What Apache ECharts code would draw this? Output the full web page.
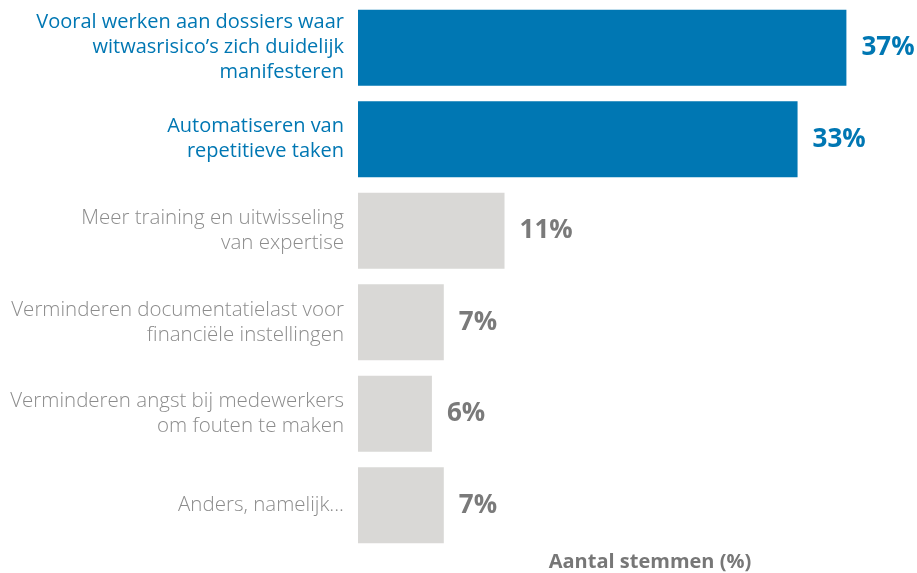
<!DOCTYPE html>
<html>
<head>
<meta charset="utf-8">
<script src="https://cdn.jsdelivr.net/npm/echarts@6/dist/echarts.min.js"></script>
<style>
  html, body { margin: 0; padding: 0; background: #fff; }
  #chart { width: 917px; height: 573px; }
</style>
</head>
<body>
<div id="chart"></div>
<script>
const categories = [
  'Vooral werken aan dossiers waar\nwitwasrisico\u2019s zich duidelijk\nmanifesteren',
  'Automatiseren van\nrepetitieve taken',
  'Meer training en uitwisseling\nvan expertise',
  'Verminderen documentatielast voor\nfinanci\u00eble instellingen',
  'Verminderen angst bij medewerkers\nom fouten te maken',
  'Anders, namelijk...'
];
// bar lengths; labels show the rounded value
const values = [37, 33.3, 11.1, 6.5, 5.6, 6.5];
const highlighted = [true, true, false, false, false, false];
const axisTitle = 'Aantal stemmen (%)';

const blue = '#0077b3';
const grey = '#d9d8d6';
const textGrey = '#8c8c8c';
const valueGrey = '#7a7a7a';

let chart = echarts.init(document.getElementById('chart'));
let option = {
  animation: false,
  grid: { left: 358, right: 31, top: 2, bottom: 22 },
  xAxis: {
    type: 'value',
    min: 0,
    max: 40,
    show: false
  },
  yAxis: {
    type: 'category',
    inverse: true,
    data: categories,
    axisLine: { show: false },
    axisTick: { show: false },
    axisLabel: {
      margin: 14,
      align: 'right',
      formatter: (v, i) => {
        let tag = highlighted[i] ? 'b' : 'g';
        return v.split('\n').map(l => '{' + tag + '|' + l + '}').join('\n');
      },
      rich: {
        b: { fontFamily: 'Open Sans', fontSize: 20, lineHeight: 25, fontWeight: 'normal', color: blue, align: 'right' },
        g: { fontFamily: 'Open Sans', fontSize: 20.5, lineHeight: 25, fontWeight: 300, color: textGrey, align: 'right' }
      }
    }
  },
  series: [{
    type: 'bar',
    barWidth: 76,
    data: values.map((v, i) => ({
      value: v,
      itemStyle: { color: highlighted[i] ? blue : grey },
      label: { color: highlighted[i] ? blue : valueGrey }
    })),
    label: {
      show: true,
      position: 'right',
      distance: 15,
      formatter: p => Math.round(p.value) + '%',
      fontFamily: 'Open Sans',
      fontWeight: 'bold',
      fontSize: 26
    }
  }],
  graphic: [{
    type: 'text',
    x: 650,
    y: 562,
    style: {
      text: axisTitle,
      fill: '#777',
      font: 'bold 20px "Open Sans"',
      textAlign: 'center',
      textVerticalAlign: 'middle'
    }
  }]
};
chart.setOption(option);
</script>
</body>
</html>
